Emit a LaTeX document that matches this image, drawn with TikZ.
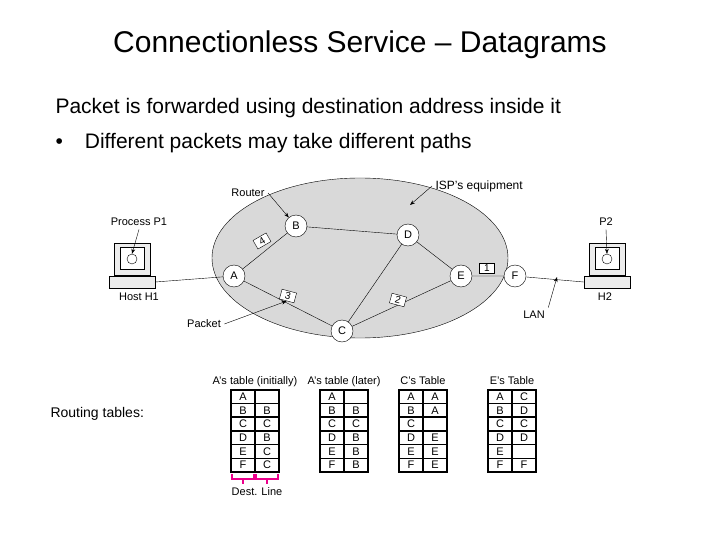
\documentclass[tikz,border=0pt]{standalone}
\usepackage{fontspec}
\setmainfont{Liberation Sans}
\usetikzlibrary{arrows.meta,shapes.geometric}
\begin{document}
\begin{tikzpicture}[x=1pt,y=-1pt,
  rt/.style={circle,draw,fill=white,minimum size=22pt,inner sep=0pt,font=\fontsize{11}{12}\selectfont},
  lbl/.style={font=\fontsize{11}{12}\selectfont},
  pk/.style={draw,fill=white,font=\fontsize{10}{11}\selectfont,inner sep=1.5pt,minimum width=15pt},
  arr/.style={-{Stealth[length=5pt]}},
  cell/.style={draw,line width=1.6pt,minimum width=24pt,minimum height=13.7pt,inner sep=0pt,font=\fontsize{11}{12}\selectfont},
  tt/.style={font=\fontsize{11}{12}\selectfont,anchor=base}]
\useasboundingbox (0,0) rectangle (720,540);
\node (title) at (360,45) {\fontsize{30}{34}\selectfont Connectionless Service -- Datagrams};
\node[anchor=west] (l1) at (52,108) {\fontsize{21}{24}\selectfont Packet is forwarded using destination address inside it};
\node[anchor=west] (l2) at (52,143) {\fontsize{21}{24}\selectfont \textbullet\hspace{22pt}Different packets may take different paths};
\node[ellipse,draw,fill=gray!30,minimum width=296pt,minimum height=160pt] (isp) at (360,258) {};
\node[rt] (A) at (234,276) {A};
\node[rt] (B) at (296,226) {B};
\node[rt] (D) at (408,235) {D};
\node[rt] (E) at (461,276) {E};
\node[rt] (F) at (515,276) {F};
\node[rt] (C) at (342,331) {C};
\draw (A)--(B) (B)--(D) (D)--(E) (A)--(C) (C)--(D) (C)--(E) (E)--(F);
% computers
\foreach \n/\x in {h1/132,h2/607}{
  \node[draw,fill=gray!15,minimum width=36pt,minimum height=32pt] (\n m) at (\x,259) {};
  \node[draw,fill=white,minimum width=24pt,minimum height=22pt] (\n s) at (\x,258) {};
  \node[circle,draw,minimum size=10pt,inner sep=0pt] (\n c) at (\x,259) {};
  \node[draw,fill=gray!15,minimum width=46pt,minimum height=12pt] (\n k) at (\x,282) {};
}
\draw (h1k.east) -- (A);
\draw (F) -- (h2k.west);
\node[lbl] (p1) at (139,222) {Process P1};
\node[lbl] (hh1) at (139,297) {Host H1};
\node[lbl] (p2) at (606,222) {P2};
\node[lbl] (hh2) at (605,297) {H2};
\draw[arr] (p1.south) -- (h1c.north);
\draw[arr] (p2.south) -- (h2c.north);
\node[pk,rotate=30] (k4) at (262,241) {4};
\node[pk,rotate=-15] (k3) at (288,296) {3};
\node[pk,rotate=-15] (k2) at (398,300) {2};
\node[pk] (k1) at (487,268) {1};
\node[lbl] (router) at (248,193) {Router};
\node[lbl] (packet) at (204,324) {Packet};
\node[lbl] (lan) at (534,315) {LAN};
\node[font=\fontsize{12}{13}\selectfont,anchor=west] (ispl) at (432,186) {ISP's equipment};
\coordinate (ispt) at (410,205);
\coordinate (lant) at (557,277);
\draw[arr] (router.east) -- (B);
\draw[arr] (packet.east) -- (k3.south);
\draw[arr] (ispl.west) -- (ispt);
\draw[arr] (lan.north east) -- (lant);
% tables
\node[lbl,anchor=west] (rtl) at (47,414) {\fontsize{14}{16}\selectfont Routing tables:};
\newcommand{\rtable}[4]{%
  \node[tt] (#1h) at (#2,384) {#3};
  \foreach \a/\b [count=\i] in {#4}{
    \node[cell] (#1a\i) at (#2-12,383+13.7*\i) {\a};
    \node[cell] (#1b\i) at (#2+12,383+13.7*\i) {\b};
  }}
\rtable{ti}{255}{A's table (initially)}{A/,B/B,C/C,D/B,E/C,F/C}
\rtable{tl}{344}{A's table (later)}{A/,B/B,C/C,D/B,E/B,F/B}
\rtable{tc}{423}{C's Table}{A/A,B/A,C/,D/E,E/E,F/E}
\rtable{te}{512}{E's Table}{A/C,B/D,C/C,D/D,E/,F/F}
\draw[magenta,line width=1.5pt] (232,474)--(232,479)--(254,479)--(254,474) (243,479)--(243,484);
\draw[magenta,line width=1.5pt] (256,474)--(256,479)--(278,479)--(278,474) (267,479)--(267,484);
\node[lbl] (dl) at (257,492) {Dest. Line};
\end{tikzpicture}
\end{document}
